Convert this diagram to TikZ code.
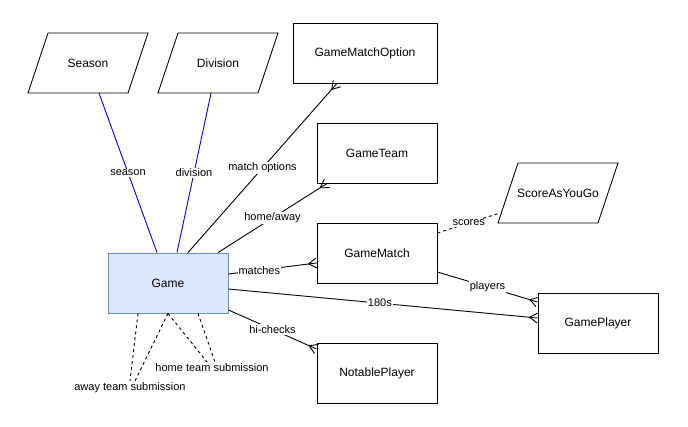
\documentclass[tikz,border=0pt]{standalone}
\usepackage{fontspec}
\setmainfont{Liberation Sans}
\usetikzlibrary{calc}
\definecolor{gamefill}{HTML}{DAE8FC}
\definecolor{gamedraw}{HTML}{6C8EBF}
\newcommand\crowfoot[2]{%
  \draw[conn] ($(#2)!8pt!(#1)$) -- ($(#2)!5pt!90:(#1)$);
  \draw[conn] ($(#2)!8pt!(#1)$) -- ($(#2)!5pt!-90:(#1)$);
}
\begin{document}
\begin{tikzpicture}[x=1pt,y=-1pt,
  entity/.style={draw, line width=0.9pt, minimum width=120pt, minimum height=60pt, inner sep=0pt, font=\fontsize{12}{14}\selectfont},
  para/.style={minimum width=100pt, minimum height=60pt, inner sep=0pt, font=\fontsize{12}{14}\selectfont},
  conn/.style={line width=0.9pt, black},
  blueconn/.style={line width=0.9pt, blue},
  dashconn/.style={line width=0.9pt, dash pattern=on 3pt off 3pt},
  lbl/.style={fill=white, text=black, inner sep=1pt, font=\fontsize{11}{13}\selectfont}]
\useasboundingbox (0,0) rectangle (688,427);

% parallelograms
\node[para] (season) at (88,63) {Season};
\draw[line width=0.9pt] (48,33) -- (148,33) -- (128,93) -- (28,93) -- cycle;
\node[para] (division) at (218,63) {Division};
\draw[line width=0.9pt] (178,33) -- (278,33) -- (258,93) -- (158,93) -- cycle;
\node[para] (score) at (558,193) {ScoreAsYouGo};
\draw[line width=0.9pt] (518,163) -- (618,163) -- (598,223) -- (498,223) -- cycle;

% rectangles
\node[entity, minimum width=144pt] (gmo) at (365,53) {GameMatchOption};
\node[entity] (gteam) at (377,153) {GameTeam};
\node[entity] (gmatch) at (377,253) {GameMatch};
\node[entity, fill=gamefill, draw=gamedraw] (game) at (168,283) {Game};
\node[entity] (gplayer) at (598,323) {GamePlayer};
\node[entity] (notable) at (377,373) {NotablePlayer};

% endpoints
\coordinate (sA) at ([xshift=11pt]season.south);
\coordinate (gA) at ([xshift=-11pt]game.north);
\coordinate (dA) at ([xshift=-7pt]division.south);
\coordinate (gB) at ([xshift=9pt]game.north);
\coordinate (gC) at ([xshift=20pt]game.north);
\coordinate (oA) at ([xshift=-28pt]gmo.south);
\coordinate (gD) at ([xshift=50pt]game.north);
\coordinate (tA) at ([xshift=-50pt]gteam.south);
\coordinate (gE) at ([yshift=9pt]game.east);
\coordinate (mA) at ([yshift=-10pt]gmatch.west);
\coordinate (gF) at ([yshift=-6pt]game.east);
\coordinate (pA) at ([yshift=5pt]gplayer.west);
\coordinate (mB) at ([yshift=-19pt]gmatch.east);
\coordinate (pB) at ([yshift=21pt]gplayer.west);
\coordinate (mC) at ([yshift=20pt]gmatch.east);
\coordinate (scA) at (500,213);
\coordinate (gG) at ([yshift=-27pt]game.east);
\coordinate (nA) at ([yshift=24pt]notable.west);
\coordinate (gH) at ([xshift=-30pt]game.south);
\coordinate (gI) at (game.south);
\coordinate (gJ) at ([xshift=30pt]game.south);
\coordinate (awL) at (130,381);
\coordinate (awR) at (135,381);
\coordinate (hoL) at (207,362);
\coordinate (hoR) at (215,362);

% blue connectors
\draw[blueconn] (sA) -- node[lbl, pos=0.5] {season} (gA);
\draw[blueconn] (dA) -- node[lbl, pos=0.5] {division} (gB);

% black connectors
\draw[conn] (gC) -- node[lbl, pos=0.5] {match options} (oA);
\crowfoot{gC}{oA}
\draw[conn] (gD) -- node[lbl, pos=0.5] {home/away} (tA);
\crowfoot{gD}{tA}
\draw[conn] (gE) -- node[lbl, pos=0.35] {matches} (mA);
\crowfoot{gE}{mA}
\draw[conn] (gF) -- node[lbl, pos=0.49] {180s} (pA);
\crowfoot{gF}{pA}
\draw[conn] (mB) -- node[lbl, pos=0.5] {players} (pB);
\crowfoot{mB}{pB}
\draw[dashconn] (mC) -- node[lbl, pos=0.5] {scores} (scA);
\draw[conn] (gG) -- node[lbl, pos=0.5] {hi-checks} (nA);
\crowfoot{gG}{nA}

% self loops
\draw[dashconn] (gH) -- (awL);
\draw[dashconn] (gI) -- (awR);
\node[lbl, fill=none] (awaylbl) at (130,388) {away team submission};
\draw[dashconn] (gI) -- (hoL);
\draw[dashconn] (gJ) -- (hoR);
\node[lbl] (homelbl) at (212,368) {home team submission};
\end{tikzpicture}
\end{document}
